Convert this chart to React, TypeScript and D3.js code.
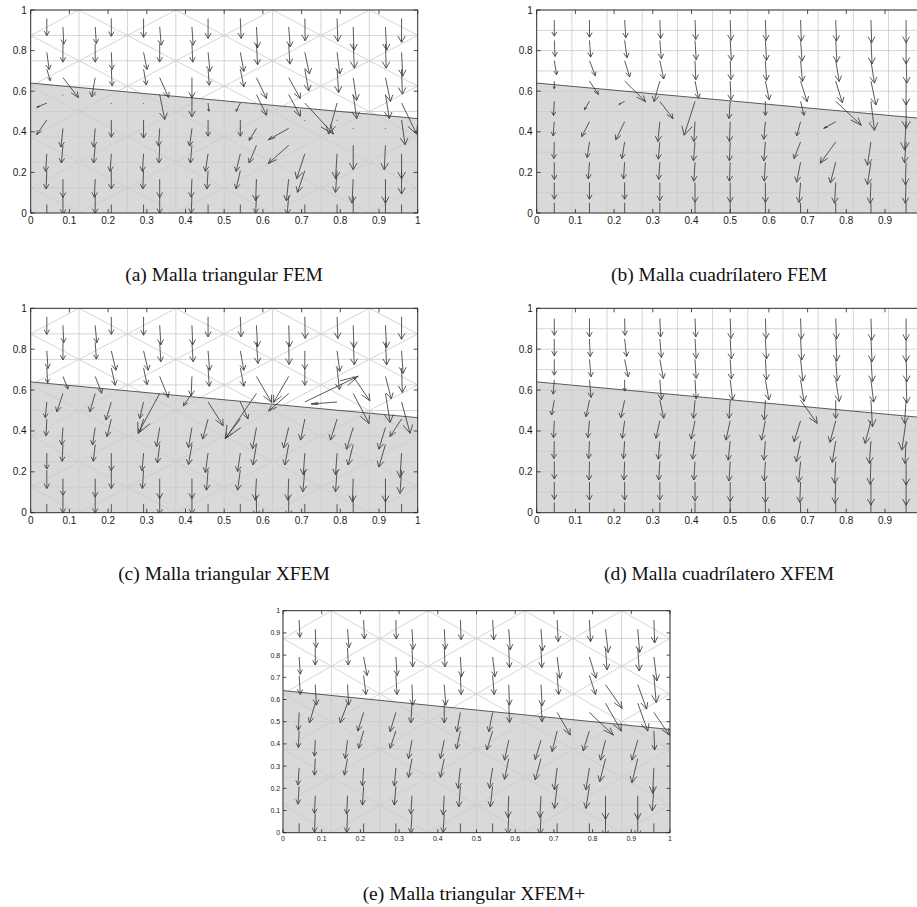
import * as d3 from "d3";

// tick values
const ticks10 = [0, 0.1, 0.2, 0.3, 0.4, 0.5, 0.6, 0.7, 0.8, 0.9, 1];
const ticks5 = [0, 0.2, 0.4, 0.6, 0.8, 1];

// material interface (x, y)
const interfaceLine: [number, number][] = [[0, 0.64], [1, 0.465]];

// quiver vectors [u, v] in hundredths, triangular mesh: 16 centroid columns, top to bottom
const triFEM = [
  [[0, -8.5], [0.6, -8.5], [0.9, -5.7], [-2.6, -2.1], [-2.6, -7.2], [-0.3, -8.7], [-0.2, -9], [0, -8.5]],
  [[0.2, -8.5], [0, -9], [4, -9.8], [0, -0.3], [-0.5, -9.2], [-0.4, -8.7], [0, -9], [0, -9]],
  [[0.3, -8.2], [0, -9], [-0.9, -9.5], [0, -0.3], [-0.4, -9.2], [-0.4, -8.7], [-0.2, -8.9], [0, -8.5]],
  [[0, -8.8], [0.2, -8.5], [0.2, -8.2], [0, -0.3], [0, -8.5], [-0.3, -8.7], [0, -9], [0, -8.5]],
  [[0, -9.3], [0.9, -8.5], [0.7, -7.7], [0, -0.3], [0, -8.9], [-0.3, -8.7], [-0.2, -9], [0, -8.5]],
  [[0.4, -9], [0, -9], [2.3, -9.8], [1.3, -12.3], [-0.3, -8.7], [-0.2, -8.7], [0, -9], [0, -8.5]],
  [[0.3, -9], [0.2, -9], [0, -10], [0, -11], [-0.6, -8.7], [-0.4, -8.7], [-0.2, -8.9], [-0.2, -8.4]],
  [[0, -9.8], [0.5, -9.4], [0.3, -7.9], [0.2, -4], [0, -8], [-0.7, -8.7], [-0.3, -9], [0, -8.5]],
  [[0.2, -9.8], [0.9, -9.4], [0.9, -8.7], [-1.1, -4.1], [0, -8], [-1.1, -8.7], [-1.1, -9], [0, -8.5]],
  [[0.3, -10.3], [0.3, -10.3], [2.6, -10.3], [2.6, -10.2], [-1.9, -5.9], [-1.9, -8.7], [-0.2, -10.7], [-0.2, -8.4]],
  [[0.4, -9.9], [0.3, -10], [3, -10.3], [3, -10.7], [-5.3, -5.6], [-5.3, -9], [-0.6, -10.7], [-0.4, -9]],
  [[0.1, -11], [1.2, -10.7], [1, -10.7], [7.4, -15.3], [0, -0.3], [-2.1, -12.3], [-1.9, -10.7], [0, -9]],
  [[0.2, -11.3], [0.7, -10.7], [0.4, -11.5], [-2.2, -15.3], [0, -0.3], [-0.4, -12.3], [-0.4, -10.7], [0, -10]],
  [[0.2, -11.5], [0.3, -12], [0.9, -11.2], [0.9, -11.8], [0, -0.3], [0, -12], [-0.3, -11.8], [0, -11]],
  [[0.3, -11.5], [0.2, -12], [1.3, -11.7], [1, -11.8], [0, -0.3], [-0.3, -12], [0, -11.8], [0, -11]],
  [[0, -11.8], [0.3, -11.8], [0.2, -12.3], [3.9, -15.3], [0.9, -12.2], [0, -12.3], [0, -11.5], [0, -11]],
];

const triXFEM = [
  [[0, -8.6], [0.3, -8.6], [0.2, -7.3], [-0.4, -7.7], [-0.2, -8.2], [0, -7.8], [0, -9], [0, -8.5]],
  [[0.2, -8.5], [0, -8.6], [1.3, -6.2], [-1.6, -9], [-0.3, -8.5], [-0.2, -8.2], [0, -8.2], [0, -8.5]],
  [[0.4, -8.5], [0.3, -8.2], [1.7, -8.2], [-1.4, -9], [-0.7, -8.5], [-0.5, -8.2], [0, -9], [0, -8.5]],
  [[0, -8.6], [1.2, -9.5], [1, -8.5], [-1.4, -8.8], [-1.1, -8.6], [0, -8.6], [0, -9], [0, -8.5]],
  [[0, -9], [1.2, -9.5], [0.9, -8.2], [-1, -8], [-1.1, -6.5], [-0.4, -8.6], [-0.3, -9], [0, -8.5]],
  [[0.3, -9.5], [0.3, -9.5], [2.2, -10.3], [-5.6, -19.6], [-0.8, -9.3], [-0.6, -9], [0, -9.8], [0, -9]],
  [[0.2, -9.5], [0.3, -9.5], [-0.2, -9.5], [-2.2, -6], [-0.9, -9.8], [-0.9, -9.8], [0, -9.8], [0, -9]],
  [[0, -9.8], [0.4, -9.5], [0.3, -9], [3.9, -11.6], [-1.4, -9.8], [-0.7, -9.5], [-0.4, -9.8], [0, -9]],
  [[0.2, -9.8], [0.9, -9.5], [0.9, -9], [2, -8.3], [-3.9, -9.5], [-0.7, -9], [-0.7, -9.8], [0, -9]],
  [[0.3, -10.6], [0.4, -10.3], [3.9, -12.7], [-8, -22], [-1, -10.4], [-0.9, -10], [-0.3, -10.6], [0, -10]],
  [[0.2, -10.6], [0.1, -10.8], [-3.9, -12.7], [-5.2, -8.6], [-1.3, -10], [-1, -10], [-0.2, -10.6], [0, -10]],
  [[0.1, -10.6], [0, -9], [0, -8.5], [13.8, 12.6], [-1.1, -10.3], [-0.4, -10.6], [-0.5, -10.6], [0, -10]],
  [[0.2, -10.6], [0.7, -10], [0.6, -10.6], [-6.7, -1], [-1.7, -10.3], [-0.4, -10.6], [-0.4, -10.6], [0, -10]],
  [[0.2, -11], [0.3, -11], [4.3, -11.9], [4.1, -14.7], [-1.7, -10.6], [-1.3, -10], [-0.2, -11.4], [0, -11]],
  [[0.3, -11], [0.3, -11], [1.5, -11], [1.2, -14.2], [-1.7, -10.6], [-1.7, -11], [0, -11.4], [0, -11]],
  [[0, -11], [0.4, -11], [0.2, -12], [2.2, -15.3], [-3, -8.6], [-0.4, -11.9], [-0.4, -11.4], [0, -11]],
];

const triXFEMplus = [
  [[0.2, -7.8], [0.3, -7.8], [0.3, -8.6], [-0.2, -8], [-0.2, -7.5], [-0.3, -7.7], [-0.3, -8], [0, -8]],
  [[0.2, -8.3], [0, -7.8], [0.3, -9.2], [-1.5, -8.9], [-0.2, -7.2], [-0.2, -7.4], [-0.2, -8], [-0.2, -8.2]],
  [[0.4, -8.3], [0.2, -7.8], [0.3, -9.2], [-1.9, -8.9], [-0.6, -8.3], [-0.8, -7.4], [-0.2, -8.3], [-0.2, -8.3]],
  [[0.2, -8.6], [0.9, -8.4], [0.6, -8.6], [-1.5, -8.4], [-1.3, -7.8], [-0.3, -8.1], [-0.3, -8.4], [0, -8]],
  [[0.1, -8.6], [0.3, -8.4], [0.3, -8.6], [-1.5, -8.7], [-1.5, -7.8], [-0.4, -8.1], [-0.4, -8.4], [0, -8]],
  [[0.3, -9], [0.2, -8.6], [0.2, -9.2], [-0.3, -8.9], [-0.9, -8.3], [-0.9, -8.4], [-0.3, -8.3], [-0.3, -8.6]],
  [[0.3, -9], [0.2, -8.6], [0.4, -9.2], [0, -8.9], [-1, -8.3], [-1, -8.4], [-0.3, -8.7], [-0.3, -8.3]],
  [[0.2, -8.9], [0.3, -8.9], [0.2, -8.6], [-0.9, -8.7], [-1, -8.1], [-0.6, -9.2], [-0.4, -9.2], [0, -8.5]],
  [[0.3, -9], [0.6, -8.9], [0.4, -8.6], [-1, -8.7], [-1.5, -8.6], [-0.8, -9.2], [-0.6, -9.2], [0, -8.5]],
  [[0.4, -9.3], [0.2, -9], [0.2, -9.2], [0.2, -8.7], [-1.1, -9], [-1.1, -9.3], [-0.2, -9.8], [-0.2, -9]],
  [[0.4, -9.8], [0.2, -9], [0.3, -9.6], [0.3, -8.4], [-1.5, -8.7], [-1.5, -9.6], [-0.3, -9.8], [-0.2, -9]],
  [[0.3, -9.8], [0.7, -9.6], [0.4, -8.6], [3.4, -10.2], [-1.3, -9.3], [-0.7, -9.9], [-0.7, -9.9], [0, -9]],
  [[0.3, -9.8], [1.7, -9.6], [1.6, -8.6], [6.2, -10.2], [-1.6, -9], [-0.9, -9.9], [-0.9, -9.9], [0, -9]],
  [[0.7, -10.5], [0.4, -10], [4.3, -10.7], [4.1, -12.6], [-1.3, -9], [-1.5, -10.4], [0, -10.7], [0, -10]],
  [[0.5, -10.5], [0.4, -10.5], [2.3, -11], [2.6, -12.6], [-1.5, -9], [-1.5, -10.8], [0, -10.7], [0, -10]],
  [[0.2, -10.4], [0.8, -10.8], [0.6, -12.2], [4, -10.2], [0.2, -8.6], [-0.3, -11.4], [-0.4, -11], [0, -10]],
];

// quadrilateral mesh: 11 columns of cell centres, rows y = 0.95 .. 0.05
const quadFEM = [
  [[0, -7.9], [0.2, -7.9], [0.6, -6.9], [0, -3.8], [-0.2, -7], [-0.3, -7], [-0.1, -8.2], [0, -8.5], [0, -8.2], [0, -8.2]],
  [[0, -8.4], [0.3, -8.2], [1.5, -7.4], [2.3, -6.6], [-1.3, -4.1], [-2, -7.4], [-0.6, -7.7], [-0.3, -8.2], [0, -8.2], [0, -8.2]],
  [[0.3, -8.7], [0.6, -8.5], [1.3, -8], [5.4, -10.2], [-1.5, -1.5], [-2.3, -9], [-0.7, -8.2], [-0.3, -8.2], [0, -8.2], [0, -8.2]],
  [[0.2, -9], [0.4, -9], [1, -9], [-1.5, -10.2], [3.4, -8.5], [-0.5, -9.8], [-0.4, -8.5], [-0.3, -8.5], [0, -9], [0, -9]],
  [[0.2, -9.5], [0.3, -9.5], [0.2, -9.3], [0.9, -8.5], [-2.8, -16.7], [-0.3, -9.8], [-0.4, -9.3], [-0.3, -9.3], [0, -9.8], [0, -9.5]],
  [[0.2, -10], [0.3, -9.8], [0.2, -9.3], [0.2, -9.3], [-0.3, -8.5], [-0.2, -9.8], [-0.2, -9.3], [-0.2, -9.3], [0, -9.8], [0, -9.5]],
  [[0.2, -10], [0.3, -9.8], [0.3, -9.7], [1, -9.3], [0, -6.9], [-0.4, -8.7], [-0.4, -9.3], [-0.3, -9.3], [0, -9.8], [0, -9.5]],
  [[0.2, -10.3], [0.4, -10.2], [0.5, -10.2], [1.7, -10.2], [0.9, -6.9], [-1, -7], [-1.7, -8.2], [-1, -9.8], [-0.4, -9.8], [0, -9.5]],
  [[0.2, -10.3], [0.3, -10.7], [0.9, -10.2], [1.7, -10.7], [6.6, -11.8], [-3.1, -3.3], [-4, -10.5], [-1.4, -10.2], [-0.3, -10.2], [0, -10]],
  [[0.2, -11.1], [0.3, -11.5], [0.9, -11], [1.3, -11.8], [0.9, -14.3], [0, -0.3], [-0.9, -11.5], [-0.9, -11], [-0.2, -10.2], [0, -10]],
  [[0, -11.1], [0, -11.5], [0.2, -11], [0, -11.8], [0, -13.4], [-0.4, -14], [-0.4, -10.2], [-0.2, -11], [-0.2, -10.2], [0, -10]],
];

const quadXFEM = [
  [[0, -8.2], [0, -8.2], [0, -7.7], [-0.3, -7], [-0.7, -7.2], [-0.2, -8.3], [-0.1, -8.5], [0, -8.5], [0, -8.5], [0, -8.5]],
  [[0, -9], [0.2, -8.6], [0.4, -8.5], [0.4, -8.6], [-0.9, -8], [-0.4, -8.3], [-0.2, -8.5], [-0.1, -9], [0, -8.8], [0, -8.8]],
  [[0.1, -8.2], [0.5, -8.6], [0.9, -8.5], [0, -5.5], [-1, -8.5], [-0.6, -8.6], [-0.3, -8.5], [-0.2, -9], [0, -8.8], [0, -8.8]],
  [[0.2, -9], [0.4, -9.1], [0.9, -9.3], [0.4, -9.8], [1, -8.8], [-1, -8.6], [-0.4, -8.8], [-0.3, -9], [0, -8.8], [0, -9]],
  [[0.2, -9], [0.3, -9.5], [0.3, -9.3], [0.3, -9.3], [-0.4, -8.8], [-1, -9], [-0.6, -8.8], [-0.3, -9], [0, -9.3], [0, -9.3]],
  [[0.2, -9.8], [0.3, -9.8], [0.3, -9.6], [0.6, -9.8], [-0.3, -8.8], [-1.1, -9.5], [-0.5, -9.3], [-0.3, -9.5], [0, -9.6], [0, -9.6]],
  [[0.2, -9.8], [0.3, -9.8], [0.3, -10], [0.9, -9.8], [-0.3, -9.6], [-1, -9.5], [-0.4, -9.3], [-0.3, -9.5], [0, -10], [0, -10]],
  [[0.2, -10.1], [0.3, -10.3], [0.6, -10.6], [0.9, -10.6], [4.3, -11.3], [-1.7, -10.3], [-1.1, -10.1], [-0.5, -10.1], [-0.2, -10], [0, -10]],
  [[0.2, -10.1], [0.3, -10.8], [0.4, -10.6], [0.9, -10.6], [0, -8.8], [-1.5, -10.6], [-0.9, -10.4], [-0.3, -10.6], [-0.2, -10.4], [0, -10.4]],
  [[0.2, -10.6], [0.3, -11.1], [0.4, -10.9], [0.7, -10.9], [0.4, -12.9], [-1.5, -11.1], [-0.4, -10.9], [-0.2, -11.1], [0, -11.3], [0, -11.3]],
  [[0, -10.6], [0, -11.1], [0.2, -10.9], [0.2, -11.4], [-0.4, -11.3], [-1.1, -14.4], [-0.3, -10.9], [0, -11.4], [0, -11.3], [0, -11.3]],
];

const TRI_N = 8; // squares per side, each split by one diagonal
const QUAD_NX = 11;
const QUAD_NY = 10;
const PAGE_W = 917;

// arrow anchor points from the mesh layout
function triPoints(): [number, number][] {
  const h = 1 / TRI_N;
  const pts: [number, number][] = [];
  for (let j = 0; j < TRI_N * 2; j++) {
    const m = j >> 1;
    const half = j & 1;
    for (let n = TRI_N - 1; n >= 0; n--) {
      const even = (m + n) % 2 === 0;
      const fy = half === 0 ? (even ? 1 / 3 : 2 / 3) : even ? 2 / 3 : 1 / 3;
      pts.push([(m + (half ? 2 / 3 : 1 / 3)) * h, (n + fy) * h]);
    }
  }
  return pts;
}

function quadPoints(): [number, number][] {
  const pts: [number, number][] = [];
  for (let i = 0; i < QUAD_NX; i++)
    for (let r = QUAD_NY - 1; r >= 0; r--) pts.push([(i + 0.5) / QUAD_NX, (r + 0.5) / QUAD_NY]);
  return pts;
}

function meshSegments(kind: string): [number, number, number, number][] {
  const segs: [number, number, number, number][] = [];
  if (kind === "tri") {
    const h = 1 / TRI_N;
    for (let k = 0; k <= TRI_N; k++) {
      segs.push([k * h, 0, k * h, 1]);
      segs.push([0, k * h, 1, k * h]);
    }
    for (let m = 0; m < TRI_N; m++)
      for (let n = 0; n < TRI_N; n++) {
        if ((m + n) % 2 === 0) segs.push([m * h, (n + 1) * h, (m + 1) * h, n * h]);
        else segs.push([m * h, n * h, (m + 1) * h, (n + 1) * h]);
      }
  } else {
    for (let i = 0; i <= QUAD_NX; i++) segs.push([i / QUAD_NX, 0, i / QUAD_NX, 1]);
    for (let j = 0; j <= QUAD_NY; j++) segs.push([0, j / QUAD_NY, 1, j / QUAD_NY]);
  }
  return segs;
}

const fmt = d3.format("~g");

type PanelProps = {
  id: string;
  left: number;
  top: number;
  width: number;
  height: number;
  mesh: string;
  vectors: number[][][];
  yTicks: number[];
  fontSize: number;
  tickLen: number;
};

function Panel({ id, left, top, width, height, mesh, vectors, yTicks, fontSize, tickLen }: PanelProps) {
  const x = d3.scaleLinear().domain([0, 1]).range([left, left + width]);
  const y = d3.scaleLinear().domain([0, 1]).range([top + height, top]);
  const pts = mesh === "tri" ? triPoints() : quadPoints();
  const vecs = vectors.flat();
  const alpha = 0.27;
  const beta = 0.3;

  const arrows = pts.map(([px, py], k) => {
    const u = vecs[k][0] / 100;
    const v = vecs[k][1] / 100;
    const tx = px + u;
    const ty = py + v;
    const h1x = tx - alpha * (u + beta * v);
    const h1y = ty - alpha * (v - beta * u);
    const h2x = tx - alpha * (u - beta * v);
    const h2y = ty - alpha * (v + beta * u);
    return `M${x(px)},${y(py)}L${x(tx)},${y(ty)}M${x(h1x)},${y(h1y)}L${x(tx)},${y(ty)}L${x(h2x)},${y(h2y)}`;
  });

  const gray = [[0, 0], interfaceLine[0], interfaceLine[1], [1, 0]];
  const line = d3.line<number[]>().x((d) => x(d[0])).y((d) => y(d[1]));
  // labels beyond the page edge are not shown in the figure
  const xLabels = ticks10.filter((t) => x(t) + fontSize < PAGE_W);

  return (
    <g>
      <defs>
        <clipPath id={id}>
          <rect x={left} y={top} width={width} height={height} />
        </clipPath>
      </defs>
      <rect x={left} y={top} width={width} height={height} fill="#fff" />
      <path d={line(gray) + "Z"} fill="#d9d9d9" />
      <g stroke="#cacaca" strokeWidth={0.8}>
        {meshSegments(mesh).map((s, i) => (
          <line key={i} x1={x(s[0])} y1={y(s[1])} x2={x(s[2])} y2={y(s[3])} />
        ))}
      </g>
      <path d={line(interfaceLine) ?? ""} stroke="#4a4a4a" strokeWidth={0.9} fill="none" />
      <g clipPath={`url(#${id})`} stroke="#3c3c3c" strokeWidth={0.85} fill="none">
        {arrows.map((d, i) => (
          <path key={i} d={d} />
        ))}
      </g>
      <rect x={left} y={top} width={width} height={height} fill="none" stroke="#262626" strokeWidth={0.9} />
      <g stroke="#262626" strokeWidth={0.8}>
        {ticks10.map((t) => (
          <g key={"x" + t}>
            <line x1={x(t)} x2={x(t)} y1={top + height} y2={top + height - tickLen} />
            <line x1={x(t)} x2={x(t)} y1={top} y2={top + tickLen} />
          </g>
        ))}
        {yTicks.map((t) => (
          <g key={"y" + t}>
            <line x1={left} x2={left + tickLen} y1={y(t)} y2={y(t)} />
            <line x1={left + width} x2={left + width - tickLen} y1={y(t)} y2={y(t)} />
          </g>
        ))}
      </g>
      <g fontFamily="'Liberation Sans', Arial, sans-serif" fontSize={fontSize} fill="#1a1a1a">
        {xLabels.map((t) => (
          <text key={"xl" + t} x={x(t)} y={top + height + fontSize * 1.12} textAnchor="middle">
            {fmt(t)}
          </text>
        ))}
        {yTicks.map((t) => (
          <text key={"yl" + t} x={left - fontSize * 0.4} y={y(t)} dy="0.35em" textAnchor="end">
            {fmt(t)}
          </text>
        ))}
      </g>
    </g>
  );
}

const captions = [
  { text: "(a) Malla triangular FEM", x: 224, y: 281 },
  { text: "(b) Malla cuadrílatero FEM", x: 719, y: 281 },
  { text: "(c) Malla triangular XFEM", x: 224, y: 580 },
  { text: "(d) Malla cuadrílatero XFEM", x: 719, y: 580 },
  { text: "(e) Malla triangular XFEM+", x: 474, y: 900 },
];

export default function App() {
  return (
    <svg
      width={PAGE_W}
      height={907}
      style={{ position: "absolute", left: 0, top: 0, background: "#fff", display: "block" }}
    >
      <Panel id="pa" left={30.7} top={10} width={387} height={203} mesh="tri" vectors={triFEM} yTicks={ticks5} fontSize={10} tickLen={4} />
      <Panel id="pb" left={536.7} top={10} width={387} height={203} mesh="quad" vectors={quadFEM} yTicks={ticks5} fontSize={10} tickLen={4} />
      <Panel id="pc" left={30.7} top={308.3} width={387} height={204.4} mesh="tri" vectors={triXFEM} yTicks={ticks5} fontSize={10} tickLen={4} />
      <Panel id="pd" left={536.7} top={308.3} width={387} height={204.4} mesh="quad" vectors={quadXFEM} yTicks={ticks5} fontSize={10} tickLen={4} />
      <Panel id="pe" left={283} top={610.7} width={387} height={222} mesh="tri" vectors={triXFEMplus} yTicks={ticks10} fontSize={7} tickLen={3.5} />
      <g fontFamily="'Liberation Serif', 'Times New Roman', serif" fontSize={19.5} fill="#111">
        {captions.map((c) => (
          <text key={c.text} x={c.x} y={c.y} textAnchor="middle">
            {c.text}
          </text>
        ))}
      </g>
    </svg>
  );
}
